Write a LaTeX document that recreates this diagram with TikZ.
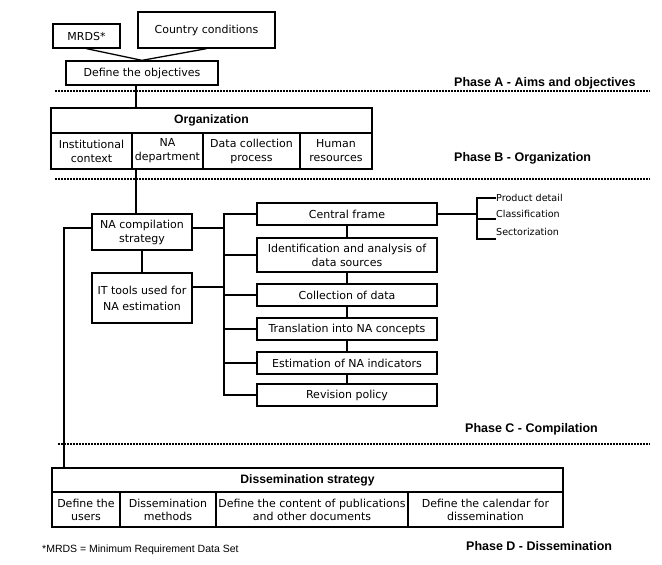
\documentclass[tikz,border=0pt]{standalone}
\usepackage{fontspec}
\setmainfont{DejaVu Sans}
\newfontfamily\lsans{Liberation Sans}
\begin{document}
\begin{tikzpicture}[x=1pt,y=-1pt,
  box/.style={draw, line width=1.3pt, inner sep=0pt, align=center, font=\fontsize{11}{14}\selectfont},
  head/.style={draw, line width=1.3pt, inner sep=0pt, align=center, font=\lsans\bfseries\fontsize{12.2}{14}\selectfont},
  phase/.style={anchor=west, inner sep=0pt, font=\lsans\bfseries\fontsize{12.5}{14}\selectfont},
  small/.style={inner sep=0pt, font=\fontsize{9.6}{11}\selectfont},
  dots/.style={line width=2pt, dash pattern=on 1.5pt off 1.5pt},
  conn/.style={line width=1.3pt}]
\fill[white] (0,0) rectangle (662,565);
\useasboundingbox (0,0) rectangle (662,565);

% Phase A
\node[box, minimum width=67pt, minimum height=24pt] (mrds) at (86.5,36) {MRDS*};
\node[box, minimum width=137pt, minimum height=36pt] (country) at (206.5,30) {Country conditions};
\node[box, minimum width=152pt, minimum height=24pt] (defobj) at (142,73) {Define the objectives};
\draw[conn] (mrds.south) -- (defobj.north);
\draw[conn] (country.south) -- (defobj.north);
\node[phase] (phA) at (454,83) {Phase A - Aims and objectives};
\coordinate (dA1) at (55,91); \coordinate (dA2) at (650,91);
\draw[dots] (dA1) -- (dA2);

% Phase B
\node[head, minimum width=321pt, minimum height=25pt] (org) at (211.5,120.5) {Organization};
\node[box, minimum width=81pt, minimum height=36pt] (inst) at (91.5,151) {Institutional\\context};
\node[box, minimum width=71pt, minimum height=36pt] (nadept) at (167.5,151) {NA\\department};
\node[box, minimum width=97pt, minimum height=36pt] (dcp) at (251.5,151) {Data collection\\process};
\node[box, minimum width=72pt, minimum height=36pt] (hr) at (336,151) {Human\\resources};
\draw[conn] ([xshift=-6pt]defobj.south) -- ([xshift=-6pt]defobj.south |- org.north);
\node[phase] (phB) at (454,158) {Phase B - Organization};
\coordinate (dB1) at (55,179); \coordinate (dB2) at (650,179);
\draw[dots] (dB1) -- (dB2);

% Phase C
\node[box, minimum width=100pt, minimum height=36pt] (nacomp) at (142,232) {NA compilation\\strategy};
\node[box, minimum width=100pt, minimum height=50pt, font=\fontsize{11}{16}\selectfont] (ittools) at (142,298) {IT tools used for\\NA estimation};
\draw[conn] ([xshift=-6pt]nacomp.north |- inst.south) -- ([xshift=-6pt]nacomp.north);
\draw[conn] (nacomp.south) -- (ittools.north);

\node[box, minimum width=180pt, minimum height=22pt] (cf) at (347,214) {Central frame};
\node[box, minimum width=180pt, minimum height=34pt] (ident) at (347,255) {Identification and analysis of\\data sources};
\node[box, minimum width=180pt, minimum height=22pt] (coll) at (347,295) {Collection of data};
\node[box, minimum width=180pt, minimum height=22pt] (trans) at (347,329) {Translation into NA concepts};
\node[box, minimum width=180pt, minimum height=22pt] (est) at (347,363) {Estimation of NA indicators};
\node[box, minimum width=180pt, minimum height=22pt] (rev) at (347,395) {Revision policy};
\draw[conn] (cf.south) -- (ident.north);
\draw[conn] (ident.south) -- (coll.north);
\draw[conn] (coll.south) -- (trans.north);
\draw[conn] (trans.south) -- (est.north);
\draw[conn] (est.south) -- (rev.north);

\coordinate (busx) at (224,0);
\draw[conn] (cf.west) -- (cf.west -| busx) -- (rev.west -| busx) -- (rev.west);
\draw[conn] (ident.west -| busx) -- (ident.west);
\draw[conn] (coll.west -| busx) -- (coll.west);
\draw[conn] (trans.west -| busx) -- (trans.west);
\draw[conn] (est.west -| busx) -- (est.west);
\draw[conn] ([yshift=4pt]nacomp.east) -- ([yshift=4pt]nacomp.east -| busx);
\draw[conn] ([yshift=11pt]ittools.east) -- ([yshift=11pt]ittools.east -| busx);

% sub items of central frame
\node[small, anchor=base west] (pd) at (496,201) {Product detail};
\node[small, anchor=base west] (cls) at (496,217) {Classification};
\node[small, anchor=base west] (sec) at (496,235) {Sectorization};
\coordinate (sb1) at (477,198);
\coordinate (sb2) at (477,219);
\coordinate (sb3) at (477,239);
\draw[conn] (cf.east) -- (cf.east -| sb1);
\draw[conn] (sb1 -| pd.west) -- (sb1) -- (sb3) -- (sb3 -| sec.west);
\draw[conn] (sb2) -- (sb2 -| cls.west);

\node[phase] (phC) at (465,429) {Phase C - Compilation};
\coordinate (dC1) at (58,444); \coordinate (dC2) at (650,444);
\draw[dots] (dC1) -- (dC2);

% Phase D
\node[head, minimum width=511pt, minimum height=24pt] (diss) at (307.5,480) {Dissemination strategy};
\node[box, minimum width=68pt, minimum height=35pt, font=\fontsize{11}{13}\selectfont] (users) at (86,509.5) {Define the\\users};
\node[box, minimum width=96pt, minimum height=35pt, font=\fontsize{11}{13}\selectfont] (methods) at (168,509.5) {Dissemination\\methods};
\node[box, minimum width=192pt, minimum height=35pt, font=\fontsize{11}{13}\selectfont] (content) at (312,509.5) {Define the content of publications\\and other documents};
\node[box, minimum width=155pt, minimum height=35pt, font=\fontsize{11}{13}\selectfont] (calendar) at (485.5,509.5) {Define the calendar for\\dissemination};
\coordinate (leftx) at (64,0);
\draw[conn] ([yshift=4pt]nacomp.west) -- ([yshift=4pt]nacomp.west -| leftx) -- (diss.north -| leftx);

\node[phase] (phD) at (466,546) {Phase D - Dissemination};
\node[anchor=west, inner sep=0pt, font=\lsans\fontsize{10.5}{12}\selectfont] (foot) at (42,550) {*MRDS = Minimum Requirement Data Set};
\end{tikzpicture}
\end{document}
